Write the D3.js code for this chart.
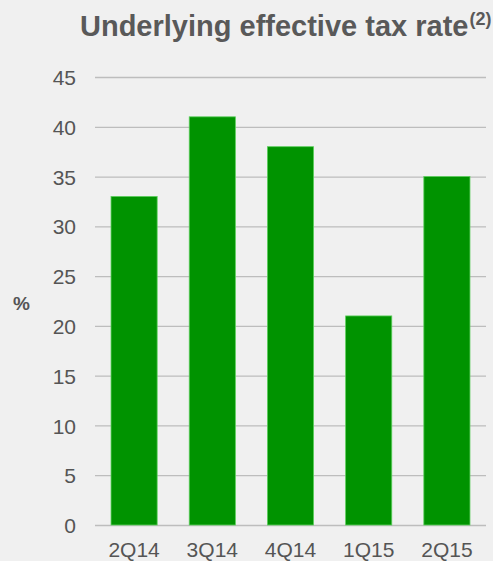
<!DOCTYPE html>
<html>
<head>
<meta charset="utf-8">
<script src="https://cdn.jsdelivr.net/npm/d3@7"></script>
<style>
  body { margin: 0; background: #f0f0f0; }
  svg { display: block; font-family: "Liberation Sans", Arial, sans-serif; }
  .asse text { fill: #555; font-size: 21px; }
</style>
</head>
<body>
<script>
"use strict"
/* dati */
const trimestri = ["2Q14", "3Q14", "4Q14", "1Q15", "2Q15"];
const aliquote = [33, 41, 38, 21, 35];
const tacche = [0, 5, 10, 15, 20, 25, 30, 35, 40, 45];

const grafico = { larghezza: 493, altezza: 561 };
const margine = { sinistra: 95, destra: 7, alto: 77, basso: 36 };

const svg = d3.select("body").append("svg")
    .attr("width", grafico.larghezza)
    .attr("height", grafico.altezza);

const scalaX = d3.scaleBand()
    .domain(trimestri)
    .range([margine.sinistra, grafico.larghezza - margine.destra])
    .paddingInner(0.41)
    .paddingOuter(0.205);

const scalaY = d3.scaleLinear()
    .domain([0, 45])
    .range([grafico.altezza - margine.basso, margine.alto]);

/* griglia orizzontale */
svg.append("g")
    .selectAll("line")
    .data(tacche)
    .enter()
    .append("line")
    .attr("x1", margine.sinistra)
    .attr("x2", grafico.larghezza - margine.destra)
    .attr("y1", d => scalaY(d) + 0.5)
    .attr("y2", d => scalaY(d) + 0.5)
    .attr("stroke", "#bdbdbd")
    .attr("stroke-width", 1.3);

/* barre */
svg.append("g")
    .selectAll("rect")
    .data(aliquote)
    .enter()
    .append("rect")
    .attr("x", (d, i) => scalaX(trimestri[i]))
    .attr("y", d => scalaY(d))
    .attr("width", scalaX.bandwidth())
    .attr("height", d => scalaY(0) - scalaY(d))
    .attr("fill", "#009300")
    .attr("stroke", "#5ccf5c")
    .attr("stroke-width", 0.8);

/* asse verticale */
const asseY = d3.axisLeft(scalaY).tickValues(tacche).tickSize(0).tickPadding(19);
const gruppoY = svg.append("g")
    .attr("class", "asse")
    .attr("transform", `translate(${margine.sinistra},0)`)
    .call(asseY);
gruppoY.select(".domain").remove();
gruppoY.selectAll("text").attr("dy", "0.36em");

/* asse orizzontale */
const asseX = d3.axisBottom(scalaX).tickSize(0).tickPadding(17);
const gruppoX = svg.append("g")
    .attr("class", "asse")
    .attr("transform", `translate(0,${scalaY(0)})`)
    .call(asseX);
gruppoX.select(".domain").remove();

/* titolo */
const titolo = svg.append("text")
    .attr("x", 80)
    .attr("y", 36)
    .attr("fill", "#595959")
    .attr("font-size", "29px")
    .attr("font-weight", "bold")
    .text("Underlying effective tax rate");
titolo.append("tspan")
    .attr("font-size", "18px")
    .attr("dx", "1")
    .attr("dy", "-11")
    .text("(2)");

/* unità */
svg.append("text")
    .attr("x", 13)
    .attr("y", 310)
    .attr("fill", "#555")
    .attr("font-size", "19px")
    .attr("font-weight", "bold")
    .text("%");
</script>
</body>
</html>
